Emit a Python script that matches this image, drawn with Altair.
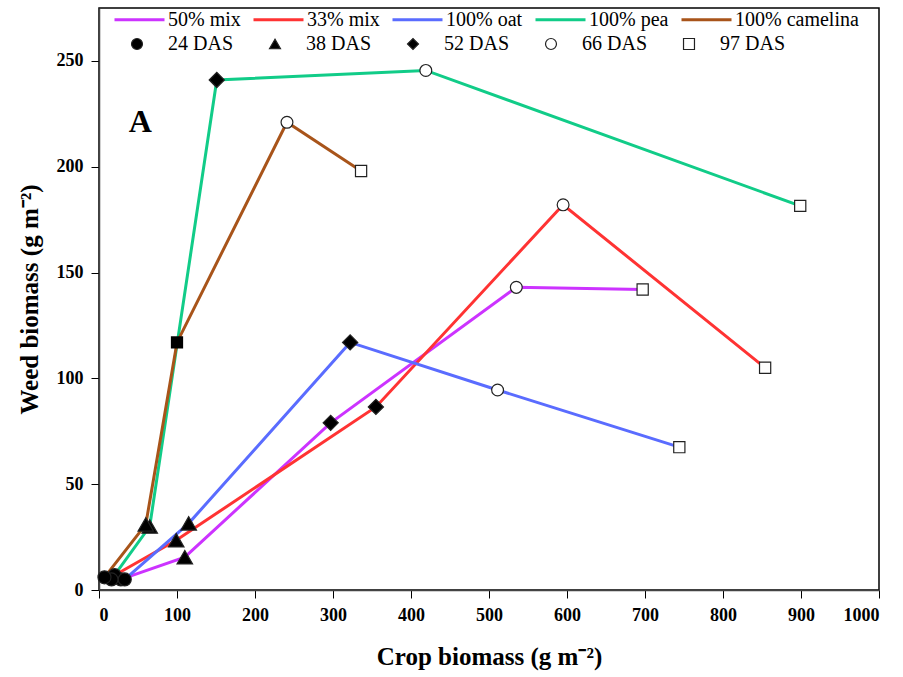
import altair as alt
import pandas as pd

# Crop mixtures and sampling dates
mixes = ["50% mix", "33% mix", "100% oat", "100% pea", "100% camelina"]
mix_colors = ["#cc33ff", "#ff3333", "#5a6cff", "#11cc88", "#a8541a"]
das_labels = ["24 DAS", "38 DAS", "52 DAS", "66 DAS", "97 DAS"]
das_shapes = ["circle", "triangle-up", "diamond", "circle", "square"]
das_fills = ["black", "black", "black", "white", "white"]
das_strokes = ["#222", "#222", "#222", "#222", "#222"]
das_sizes = [170, 240, 230, 140, 125]

# Crop biomass (g m-2) at each sampling date, per mixture
crop_50 = [28, 110, 297, 535, 697]
crop_33 = [20, 99, 355, 595, 854]
crop_oat = [33, 115, 322, 511, 744]
crop_pea = [16, 65, 151, 419, 899]
crop_cam = [7, 60, 100, 241, 336]

# Weed biomass (g m-2) at each sampling date, per mixture
weed_50 = [5, 15.5, 79, 143, 142]
weed_33 = [7, 23.5, 86.5, 182, 105]
weed_oat = [5, 31.5, 117, 94.5, 67.5]
weed_pea = [5, 30, 241, 245.5, 181.5]
weed_cam = [6, 31, 117, 221, 198]

crop = [crop_50, crop_33, crop_oat, crop_pea, crop_cam]
weed = [weed_50, weed_33, weed_oat, weed_pea, weed_cam]

rows = []
for m, xs, ys in zip(mixes, crop, weed):
    for i, (d, xv, yv) in enumerate(zip(das_labels, xs, ys)):
        rows.append({"mix": m, "das": d, "step": i, "crop": xv, "weed": yv})
df = pd.DataFrame(rows)

# camelina's 52 DAS sample is drawn as a filled square
special = (df["mix"] == "100% camelina") & (df["das"] == "52 DAS")

panel = pd.DataFrame({"crop": [53], "weed": [221], "txt": ["A"]})

serif = "Liberation Serif"
legend_font = "Liberation Serif, Times New Roman, serif"

x_enc = alt.X("crop:Q", scale=alt.Scale(domain=[0, 1000], nice=False),
              axis=alt.Axis(values=list(range(0, 1001, 100)), format="d",
                            title="Crop biomass (g m⁻²)"))
y_enc = alt.Y("weed:Q", scale=alt.Scale(domain=[0, 275], nice=False),
              axis=alt.Axis(values=[0, 50, 100, 150, 200, 250], format="d",
                            title="Weed biomass (g m⁻²)"))

lines = alt.Chart(df).mark_line(strokeWidth=3).encode(
    x=x_enc, y=y_enc,
    color=alt.Color("mix:N", scale=alt.Scale(domain=mixes, range=mix_colors),
                    legend=alt.Legend(title=None, orient="none", legendX=14, legendY=-15,
                                      direction="horizontal", columns=5,
                                      symbolType="stroke", symbolSize=2500,
                                      symbolStrokeWidth=3, labelOffset=2,
                                      columnPadding=6, padding=0,
                                      labelFont=legend_font, labelFontSize=20,
                                      labelFontWeight="normal",
                                      labelColor="black")),
    detail="mix:N",
    order="step:Q",
)

das_legend = alt.Legend(title=None, orient="none", legendX=28, legendY=26,
                        direction="horizontal", columns=5,
                        symbolSize=120, symbolStrokeWidth=1.2,
                        labelOffset=21, columnPadding=31, padding=0,
                        labelFont=legend_font, labelFontSize=20,
                        labelFontWeight="normal", labelColor="black")

# marker size per sampling date
size_rule = {
    "condition": [
        {"test": f"datum.das === '{d}'", "value": s}
        for d, s in zip(das_labels[1:], das_sizes[1:])
    ],
    "value": das_sizes[0],
}

points = alt.Chart(df[~special]).mark_point(strokeWidth=1.2, opacity=1).encode(
    x="crop:Q", y="weed:Q",
    shape=alt.Shape("das:N", scale=alt.Scale(domain=das_labels, range=das_shapes),
                    legend=das_legend),
    fill=alt.Fill("das:N", scale=alt.Scale(domain=das_labels, range=das_fills),
                  legend=das_legend),
    stroke=alt.Stroke("das:N", scale=alt.Scale(domain=das_labels, range=das_strokes),
                      legend=das_legend),
    size=size_rule,
)

square_pt = alt.Chart(df[special]).mark_point(
    shape="square", size=150, filled=True, color="black", opacity=1
).encode(x="crop:Q", y="weed:Q")

label = alt.Chart(panel).mark_text(font=serif, fontSize=32, fontWeight="bold",
                                   color="black").encode(
    x="crop:Q", y="weed:Q", text="txt:N")

chart = alt.layer(lines, points, square_pt, label).properties(
    width=780, height=582,
    autosize=alt.AutoSizeParams(type="none"),
    padding={"left": 99, "top": 8, "right": 24, "bottom": 87},
).resolve_legend(
    color="independent"
).configure(
    font=serif
).configure_view(
    stroke="black", strokeWidth=1.5
).configure_legend(
    labelFont=legend_font, labelFontSize=20, labelColor="black"
).configure_axis(
    grid=False, labelFont=serif, labelFontSize=18, labelFontWeight="bold",
    labelColor="black", titleFont=serif, titleFontSize=25, titleFontWeight="bold",
    titleColor="black", tickColor="black", tickSize=8, domainColor="#444",
    domainWidth=1.5,
).configure_axisX(
    labelPadding=8, titlePadding=20
).configure_axisY(
    labelPadding=8, titlePadding=14
)

chart.save("out.html", embed_options={"renderer": "svg", "actions": False})
